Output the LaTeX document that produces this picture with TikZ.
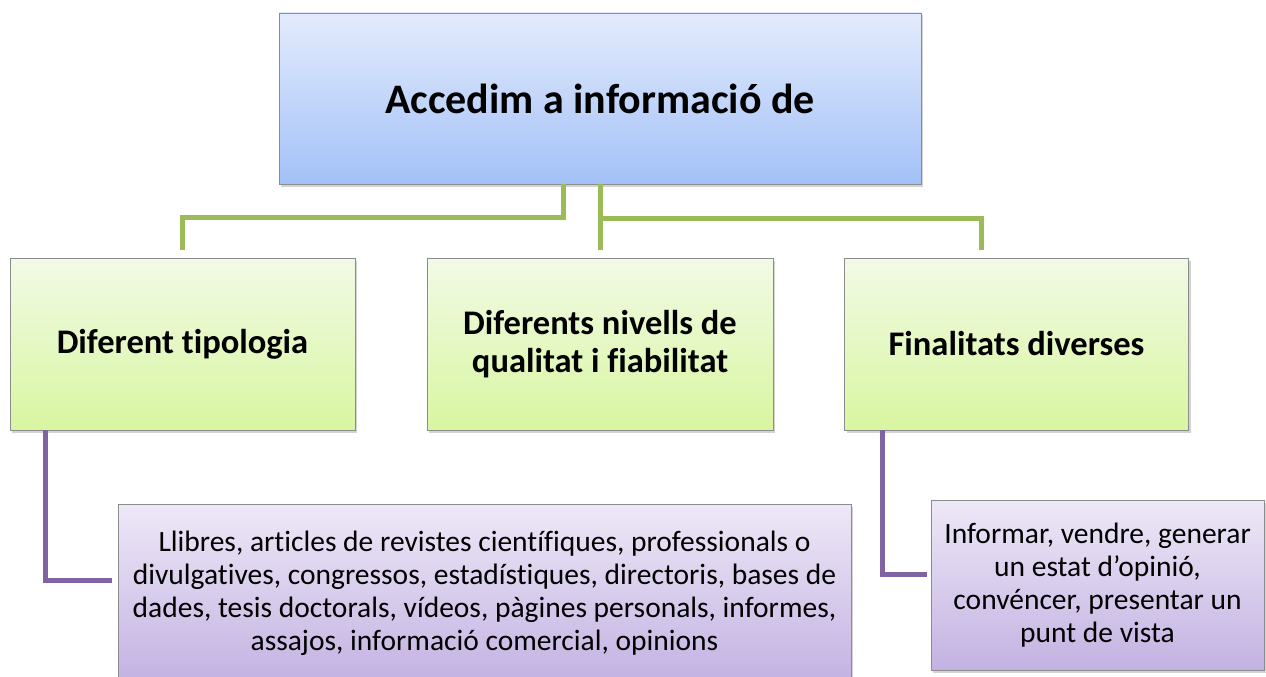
\documentclass[tikz,border=0pt]{standalone}
\usepackage{fontspec}
\setmainfont[Ligatures=NoCommon]{Carlito}
\usetikzlibrary{shadows}

\definecolor{acctop}{RGB}{227,235,252}
\definecolor{accbot}{RGB}{163,193,248}
\definecolor{midtop}{RGB}{242,250,230}
\definecolor{midbot}{RGB}{216,246,160}
\definecolor{lowtop}{RGB}{238,232,247}
\definecolor{lowbot}{RGB}{195,178,226}
\definecolor{linkgreen}{RGB}{155,187,89}
\definecolor{linkpurple}{RGB}{128,100,162}

\begin{document}
\begin{tikzpicture}[x=1pt, y=-1pt,
  box/.style={draw=black!45, line width=0.8pt, align=center, inner sep=0pt,
    drop shadow={opacity=0.35, shadow xshift=2pt, shadow yshift=-2.5pt}},
  topbox/.style={box, top color=acctop, bottom color=accbot,
    font=\fontsize{42}{48}\selectfont\bfseries},
  midbox/.style={box, top color=midtop, bottom color=midbot,
    font=\fontsize{34.5}{38}\selectfont\bfseries},
  lowbox/.style={box, top color=lowtop, bottom color=lowbot,
    font=\fontsize{29.5}{33}\selectfont},
  greenlink/.style={draw=linkgreen, line width=5pt},
  purplelink/.style={draw=linkpurple, line width=5pt}]
  \useasboundingbox (0,0) rectangle (1266,677);
  \node[topbox, minimum width=642pt, minimum height=171pt] (acc) at (600,98.5) {Accedim a informació de};
  \node[midbox, minimum width=345pt, minimum height=172pt] (tip) at (182.5,344) {Diferent tipologia};
  \node[midbox, minimum width=346pt, minimum height=172pt] (qual) at (600,344) {Diferents nivells de\\qualitat i fiabilitat};
  \node[midbox, minimum width=344pt, minimum height=172pt] (fin) at (1016.5,344) {Finalitats diverses};
  \node[lowbox, minimum width=733pt, minimum height=178pt] (tipus) at (484.5,593)
    {Llibres, articles de revistes científiques, professionals o\\
     divulgatives, congressos, estadístiques, directoris, bases de\\
     dades, tesis doctorals, vídeos, pàgines personals, informes,\\
     assajos, informació comercial, opinions};
  \node[lowbox, minimum width=333pt, minimum height=170pt] (objs) at (1097.5,585)
    {Informar, vendre, generar\\un estat d’opinió,\\convéncer, presentar un\\punt de vista};
  \draw[greenlink] ([xshift=-37pt]acc.south) |- ([yshift=40pt]tip.north) -- ([yshift=8pt]tip.north);
  \draw[greenlink] (acc.south) -- ([yshift=8pt]qual.north);
  \draw[greenlink] ([yshift=-34pt]acc.south) -| ([xshift=-35.5pt,yshift=8pt]fin.north);
  \draw[purplelink] ([xshift=-137.5pt]tip.south) |- ([xshift=-6pt,yshift=13pt]tipus.west);
  \draw[purplelink] ([xshift=-134.5pt]fin.south) |- ([xshift=-4pt,yshift=11pt]objs.west);
\end{tikzpicture}
\end{document}
